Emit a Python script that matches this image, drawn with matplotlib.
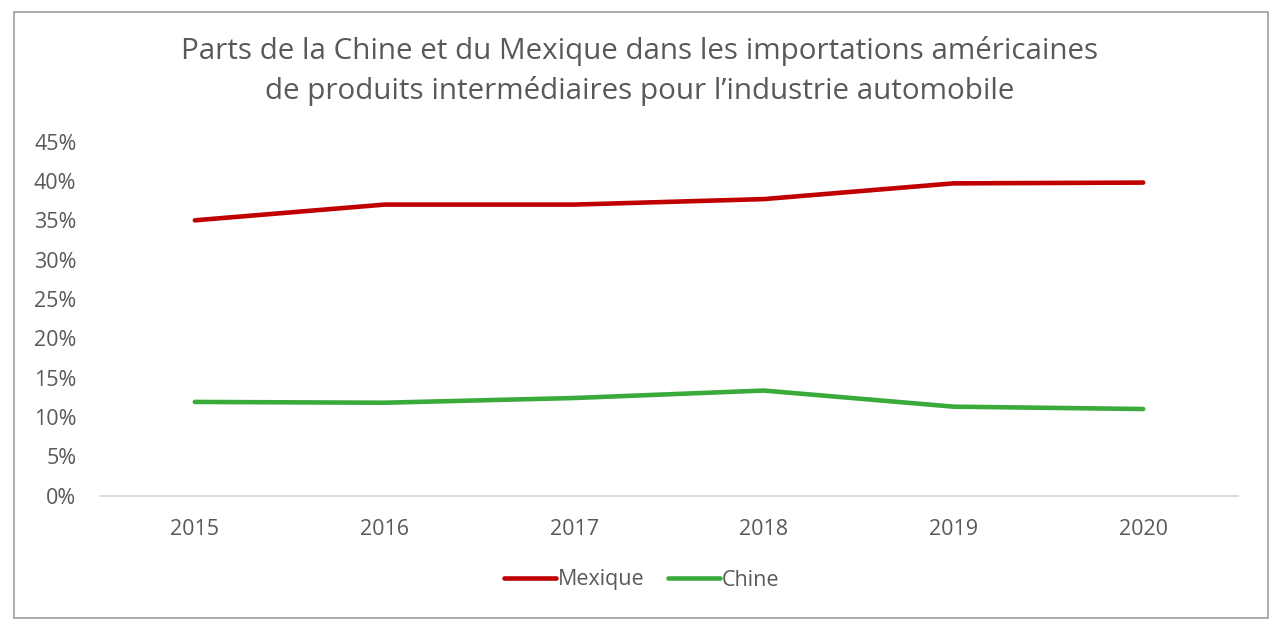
import matplotlib
matplotlib.use("Agg")
import matplotlib.pyplot as plt
from matplotlib.patches import Rectangle

years = ["2015", "2016", "2017", "2018", "2019", "2020"]
mexique = [35.0, 37.0, 37.0, 37.7, 39.7, 39.8]
chine = [11.9, 11.8, 12.4, 13.35, 11.3, 11.0]
yticks = [0, 5, 10, 15, 20, 25, 30, 35, 40, 45]
title = "Parts de la Chine et du Mexique dans les importations américaines\nde produits intermédiaires pour l\u2019industrie automobile"

plt.rcParams['font.family'] = ['Open Sans', 'DejaVu Sans']
txt = "#595959"

fig = plt.figure(figsize=(12.84, 6.3), dpi=100)
W, H = 1284, 630
# outer frame
fig.patches.append(Rectangle((14 / W, 12 / H), (1268 - 14) / W, (618 - 12) / H,
                             transform=fig.transFigure, fill=False,
                             edgecolor="#a6a6a6", linewidth=1.3))

left, right = 100, 1238
bottom, top = 495.5, 141.7
ax = fig.add_axes([left / W, 1 - bottom / H, (right - left) / W, (bottom - top) / H])

x = list(range(len(years)))
ax.plot(x, mexique, color="#c00000", linewidth=3.3, solid_capstyle="round", label="Mexique")
ax.plot(x, chine, color="#3aaa3a", linewidth=3.3, solid_capstyle="round", label="Chine")

ax.set_xlim(-0.5, len(years) - 0.5)
ax.set_ylim(0, 45)
ax.set_yticks(yticks)
ax.set_yticklabels([f"{v}%" for v in yticks])
ax.set_xticks(x)
ax.set_xticklabels(years)
ax.tick_params(axis="both", length=0, labelsize=15.5, colors=txt)
ax.tick_params(axis="x", pad=17)
ax.tick_params(axis="y", pad=17)
for lab in ax.get_yticklabels():
    lab.set_horizontalalignment("right")
for s in ["top", "right", "left"]:
    ax.spines[s].set_visible(False)
ax.spines["bottom"].set_color("#d9d9d9")
ax.spines["bottom"].set_linewidth(1.3)

fig.text(640 / W, 1 - 71 / H, title, ha="center", va="center", fontsize=21.3,
         color=txt, linespacing=1.45)

leg = fig.legend(loc="center", bbox_to_anchor=(642 / W, 1 - 580 / H), ncol=2,
                 frameon=False, fontsize=15.5, handlelength=2.4, handletextpad=0.1,
                 columnspacing=1.1)
for t in leg.get_texts():
    t.set_color(txt)

fig.savefig("out.png", dpi=100)
